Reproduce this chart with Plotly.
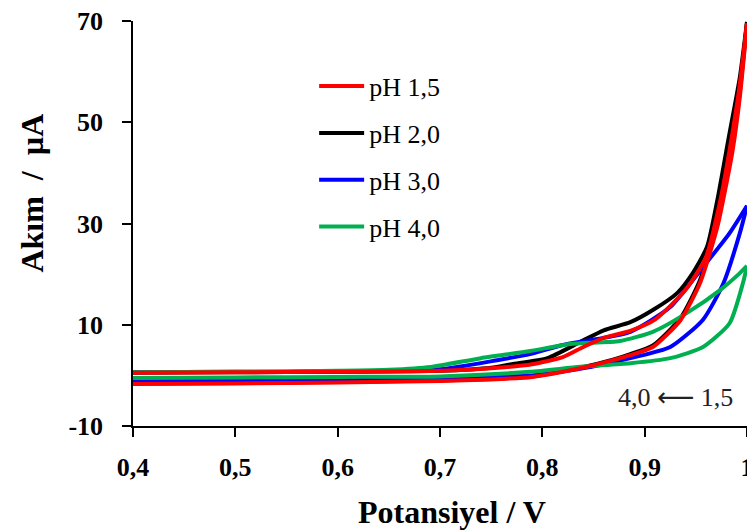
import plotly.graph_objects as go

# pH 1,5 (red)
red_fwd_E = [0.4, 0.5, 0.6, 0.7, 0.75, 0.79, 0.82, 0.84, 0.86, 0.886, 0.91, 0.94, 0.96, 0.974, 0.983, 0.992, 1.0]
red_fwd_I = [0.5, 0.6, 0.7, 0.9, 1.4, 2.2, 3.6, 5.6, 7.4, 8.8, 11.0, 16.9, 23.4, 34.6, 44.5, 56.0, 69.5]
red_rev_E = [1.0, 0.993, 0.986, 0.98, 0.971, 0.954, 0.935, 0.908, 0.886, 0.869, 0.837, 0.79, 0.75, 0.7, 0.6, 0.5, 0.4]
red_rev_I = [69.5, 55.0, 44.5, 38.0, 29.3, 18.2, 10.9, 5.6, 4.0, 3.0, 1.4, -0.3, -0.8, -1.1, -1.4, -1.6, -1.7]

# pH 2,0 (black)
blk_fwd_E = [0.4, 0.5, 0.6, 0.7, 0.75, 0.77, 0.805, 0.837, 0.86, 0.886, 0.908, 0.932, 0.947, 0.961, 0.971, 0.977, 0.983, 0.993, 1.0]
blk_fwd_I = [0.5, 0.6, 0.7, 0.9, 1.5, 2.2, 3.4, 6.6, 8.9, 10.5, 12.9, 16.3, 20.2, 25.4, 34.6, 41.2, 47.9, 58.9, 69.8]
blk_rev_E = [1.0, 0.993, 0.986, 0.98, 0.971, 0.954, 0.935, 0.908, 0.886, 0.869, 0.837, 0.79, 0.75, 0.7, 0.6, 0.5, 0.4]
blk_rev_I = [69.8, 56.0, 45.5, 39.0, 30.0, 18.8, 11.3, 5.9, 4.2, 3.1, 1.5, -0.2, -0.7, -1.0, -1.3, -1.5, -1.6]

# pH 3,0 (blue)
blu_fwd_E = [0.4, 0.5, 0.6, 0.7, 0.756, 0.79, 0.82, 0.854, 0.886, 0.925, 0.957, 0.983, 1.0]
blu_fwd_I = [0.6, 0.7, 0.8, 1.2, 3.0, 4.3, 6.0, 7.2, 8.6, 13.5, 21.4, 28.1, 33.5]
blu_rev_E = [1.0, 0.993, 0.977, 0.957, 0.925, 0.886, 0.847, 0.79, 0.75, 0.7, 0.6, 0.5, 0.4]
blu_rev_I = [33.5, 28.1, 18.2, 11.0, 5.6, 3.4, 1.65, 0.0, -0.3, -0.6, -0.9, -1.0, -1.1]

# pH 4,0 (green)
grn_fwd_E = [0.4, 0.5, 0.6, 0.65, 0.691, 0.74, 0.788, 0.827, 0.876, 0.908, 0.941, 0.974, 0.993, 1.0]
grn_fwd_I = [0.6, 0.7, 0.9, 1.1, 1.65, 3.4, 4.8, 6.2, 6.8, 8.6, 12.3, 16.9, 20.2, 21.6]
grn_rev_E = [1.0, 0.996, 0.983, 0.957, 0.925, 0.886, 0.837, 0.788, 0.7, 0.6, 0.5, 0.4]
grn_rev_I = [21.6, 18.2, 10.3, 5.6, 3.4, 2.4, 1.7, 0.7, -0.2, -0.3, -0.4, -0.5]

x_ticks = [0.4, 0.5, 0.6, 0.7, 0.8, 0.9, 1.0]
x_tick_labels = ["0,4", "0,5", "0,6", "0,7", "0,8", "0,9", "1"]
y_ticks = [-10, 10, 30, 50, 70]
y_tick_labels = ["-10", "10", "30", "50", "70"]

series = [
    ("pH 2,0", "#000000", blk_fwd_E, blk_fwd_I, blk_rev_E, blk_rev_I, 2),
    ("pH 3,0", "#0000FF", blu_fwd_E, blu_fwd_I, blu_rev_E, blu_rev_I, 3),
    ("pH 4,0", "#00B050", grn_fwd_E, grn_fwd_I, grn_rev_E, grn_rev_I, 4),
    ("pH 1,5", "#FF0000", red_fwd_E, red_fwd_I, red_rev_E, red_rev_I, 1),
]

SERIF = "Liberation Serif, Times New Roman, serif"

fig = go.Figure()
for name, color, fE, fI, rE, rI, rank in series:
    fig.add_trace(go.Scatter(x=fE, y=fI, mode="lines", name=name, legendgroup=name,
                             legendrank=rank, showlegend=True, cliponaxis=False,
                             line=dict(color=color, width=4, shape="spline", smoothing=0.6)))
    fig.add_trace(go.Scatter(x=rE, y=rI, mode="lines", name=name, legendgroup=name,
                             legendrank=rank, showlegend=False, cliponaxis=False,
                             line=dict(color=color, width=4, shape="spline", smoothing=0.6)))

fig.add_annotation(x=0.93, y=-4.3, xref="x", yref="y",
                   text="4,0 <span style='font-family:DejaVu Sans'>⟵</span> 1,5", showarrow=False,
                   font=dict(family=SERIF, size=26, color="#222222"))

# axis titles
fig.add_annotation(x=0.5195, y=-0.212, xref="paper", yref="paper",
                   text="<b>Potansiyel / V</b>", showarrow=False,
                   xanchor="center", yanchor="middle",
                   font=dict(family=SERIF, size=32, color="black"))
fig.add_annotation(x=-0.166, y=0.574, xref="paper", yref="paper",
                   text="<b>Akım\u00a0\u00a0/\u00a0\u00a0µA</b>", showarrow=False, textangle=-90,
                   xanchor="center", yanchor="middle",
                   font=dict(family=SERIF, size=32, color="black"))

# page body has an 8px margin, so the figure is sized/offset to compensate
fig.update_layout(
    width=747, height=524,
    margin=dict(l=125, r=8, t=13, b=106, autoexpand=False),
    plot_bgcolor="white", paper_bgcolor="white",
    font=dict(family=SERIF, color="black"),
    legend=dict(x=0.295, y=0.897, xanchor="left", yanchor="top",
                font=dict(family=SERIF, size=26, color="black"),
                itemwidth=45, tracegroupgap=10, bgcolor="rgba(0,0,0,0)"),
    xaxis=dict(range=[0.4, 1.0], tickvals=x_ticks, ticktext=x_tick_labels, automargin=False,
               showgrid=False, zeroline=False, showline=True, linecolor="black", linewidth=1.5,
               ticks="outside", ticklen=9, tickcolor="black", tickwidth=1.5,
               ticklabelstandoff=8, ticklabeloverflow="allow",
               tickfont=dict(family=SERIF, size=26, color="black", weight="bold")),
    yaxis=dict(range=[-10, 70], tickvals=y_ticks, ticktext=y_tick_labels, automargin=False,
               showgrid=False, zeroline=False, showline=True, linecolor="black", linewidth=1.5,
               ticks="outside", ticklen=9, tickcolor="black", tickwidth=1.5,
               ticklabelstandoff=14, ticklabeloverflow="allow",
               tickfont=dict(family=SERIF, size=26, color="black", weight="bold")),
)

fig.write_html("out.html")
